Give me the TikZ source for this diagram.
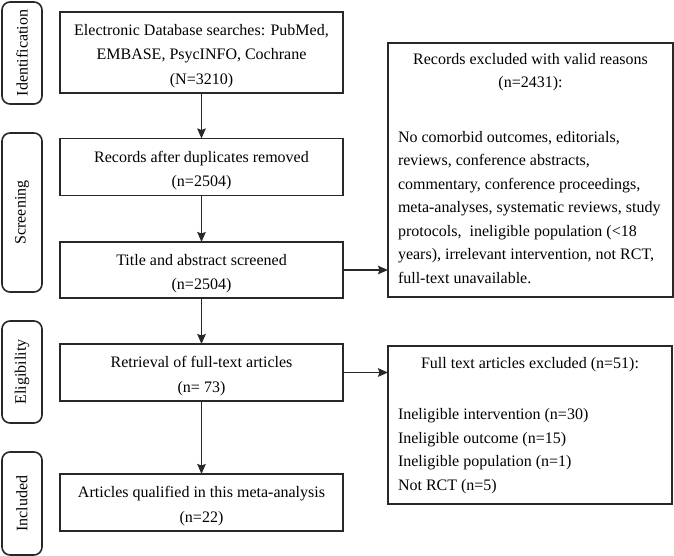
\documentclass[tikz,border=0pt]{standalone}
\usepackage{fontspec}
\setmainfont{Liberation Serif}
\usetikzlibrary{arrows.meta}
\definecolor{linegray}{RGB}{40,40,40}
\begin{document}
\begin{tikzpicture}[x=1pt,y=-1pt,
  every node/.style={font=\fontsize{16}{24.5}\selectfont, inner sep=0pt, outer sep=0pt},
  mainbox/.style={draw=linegray, line width=1.6pt, minimum width=283pt},
  boxtext/.style={align=center, yshift=-3.5pt},
  sidebox/.style={draw=linegray, line width=1.6pt, rounded corners=8pt, minimum width=40pt},
  sidetext/.style={rotate=90},
  rightbox/.style={draw=linegray, line width=1.6pt},
  listtext/.style={anchor=base west, align=left, font=\fontsize{16}{23.5}\selectfont},
  arr/.style={draw=linegray, line width=1.6pt, -{Stealth[length=10pt,width=8.5pt,inset=1.5pt]}}
]
\useasboundingbox (0,0) rectangle (674,556);

% side labels
\node[sidebox, minimum height=102pt] (sid) at (22,53) {};
\node[sidetext] (sidt) at (sid.center) {Identification};
\node[sidebox, minimum height=159pt] (sscr) at (22,212.5) {};
\node[sidetext] (sscrt) at (sscr.center) {Screening};
\node[sidebox, minimum height=102pt] (selig) at (22,372) {};
\node[sidetext] (seligt) at (selig.center) {Eligibility};
\node[sidebox, minimum height=103pt] (sinc) at (22,503.5) {};
\node[sidetext] (sinct) at (sinc.center) {Included};

% main boxes
\node[mainbox, minimum height=81pt] (b1) at (201.5,52.5) {};
\node[boxtext] (b1t) at (b1.center) {Electronic Database searches: PubMed,\\EMBASE, PsycINFO, Cochrane\\(N=3210)};
\node[mainbox, minimum height=57pt] (b2) at (201.5,167) {};
\node[boxtext] (b2t) at (b2.center) {Records after duplicates removed\\(n=2504)};
\node[mainbox, minimum height=56pt] (b3) at (201.5,270) {};
\node[boxtext] (b3t) at (b3.center) {Title and abstract screened\\(n=2504)};
\node[mainbox, minimum height=57pt] (b4) at (201.5,372.5) {};
\node[boxtext] (b4t) at (b4.center) {Retrieval of full-text articles\\(n= 73)};
\node[mainbox, minimum height=57pt] (b5) at (201.5,502.5) {};
\node[boxtext] (b5t) at (b5.center) {Articles qualified in this meta-analysis\\(n=22)};

% right boxes (text nodes anchored at the baseline of their last line)
\node[rightbox, minimum width=285pt, minimum height=254pt] (r1) at (530.5,170) {};
\node[anchor=base, align=center, font=\fontsize{16}{23}\selectfont] (r1a) at (530.5,88) {Records excluded with valid reasons\\(n=2431):};
\node[listtext] (r1b) at (398,283) {No comorbid outcomes, editorials,\\reviews, conference abstracts,\\commentary, conference proceedings,\\meta-analyses, systematic reviews, study\\protocols,\ \ ineligible population (<18\\years), irrelevant intervention, not RCT,\\full-text unavailable.};

\node[rightbox, minimum width=284pt, minimum height=158pt] (r2) at (530,425) {};
\node[anchor=base, align=center] (r2a) at (530,368) {Full text articles excluded (n=51):};
\node[listtext] (r2b) at (398,490) {Ineligible intervention (n=30)\\Ineligible outcome (n=15)\\Ineligible population (n=1)\\Not RCT (n=5)};

% arrows
\draw[arr] (b1.south) -- (b2.north);
\draw[arr] (b2.south) -- (b3.north);
\draw[arr] (b3.south) -- (b4.north);
\draw[arr] (b4.south) -- (b5.north);
\draw[arr] (b3.east) -- (b3.east -| r1.west);
\draw[arr] (b4.east) -- (b4.east -| r2.west);
\end{tikzpicture}
\end{document}
